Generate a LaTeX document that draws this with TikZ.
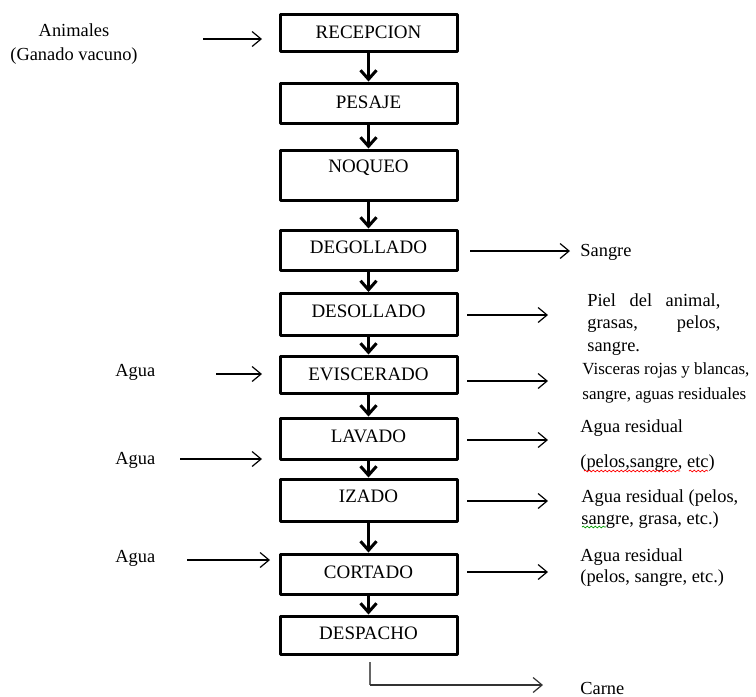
\documentclass[tikz,border=0pt]{standalone}
\usepackage{fontspec}
\setmainfont{Liberation Serif}
\usetikzlibrary{arrows.meta,decorations.pathmorphing}
\begin{document}
\begin{tikzpicture}[x=0.5pt,y=-0.5pt,
  box/.style={draw, line width=1.5pt, line join=round, minimum width=88.5pt, inner sep=0pt},
  boxtext/.style={font=\fontsize{9.5}{11}\selectfont, inner sep=0pt},
  side/.style={font=\fontsize{9.2}{11}\selectfont, inner sep=0pt, anchor=west, align=left},
  flow/.style={line width=1.5pt, -{Straight Barb[length=4.5pt,width=8pt]}},
  sidearrow/.style={line width=0.6pt, -{Straight Barb[length=4.5pt,width=7.5pt]}},
  wavy/.style={line width=0.35pt, decorate, decoration={snake, amplitude=0.45pt, segment length=2pt}}
]
\useasboundingbox (0,0) rectangle (756,697);

% process boxes
\node[box, minimum height=18.5pt] (rec) at (368.5,32.5) {};
\node[box, minimum height=20pt]   (pes) at (368.5,103) {};
\node[box, minimum height=25pt]   (noq) at (368.5,175) {};
\node[box, minimum height=20pt]   (deg) at (368.5,250) {};
\node[box, minimum height=21pt]   (dsl) at (368.5,314.5) {};
\node[box, minimum height=18.5pt] (evi) at (368.5,374.5) {};
\node[box, minimum height=20.5pt] (lav) at (368.5,438.5) {};
\node[box, minimum height=21pt]   (iza) at (368.5,500) {};
\node[box, minimum height=20pt]   (cor) at (368.5,574) {};
\node[box, minimum height=19pt]   (dsp) at (368.5,635) {};

\node[boxtext] (recT) at (rec.center) {RECEPCION};
\node[boxtext] (pesT) at ([yshift=0.5pt]pes.center) {PESAJE};
\node[boxtext] (noqT) at ([yshift=3.5pt]noq.center) {NOQUEO};
\node[boxtext] (degT) at ([yshift=1.5pt]deg.center) {DEGOLLADO};
\node[boxtext] (dslT) at ([yshift=1.75pt]dsl.center) {DESOLLADO};
\node[boxtext] (eviT) at (evi.center) {EVISCERADO};
\node[boxtext] (lavT) at ([yshift=1.25pt]lav.center) {LAVADO};
\node[boxtext] (izaT) at ([yshift=2pt]iza.center) {IZADO};
\node[boxtext] (corT) at ([yshift=1pt]cor.center) {CORTADO};
\node[boxtext] (dspT) at ([yshift=1pt]dsp.center) {DESPACHO};

% flow arrows
\draw[flow] (rec.south) -- (pes.north);
\draw[flow] (pes.south) -- (noq.north);
\draw[flow] (noq.south) -- (deg.north);
\draw[flow] (deg.south) -- (dsl.north);
\draw[flow] (dsl.south) -- (evi.north);
\draw[flow] (evi.south) -- (lav.north);
\draw[flow] (lav.south) -- (iza.north);
\draw[flow] (iza.south) -- (cor.north);
\draw[flow] (cor.south) -- (dsp.north);

% inputs (left)
\node[font=\fontsize{9.2}{12}\selectfont, align=center, inner sep=0pt] (anim) at (74,44) {Animales\\(Ganado vacuno)};
\node[side] (agua1) at (115,372) {Agua};
\node[side] (agua2) at (115,460) {Agua};
\node[side] (agua3) at (115,558) {Agua};

\coordinate (i0a) at (203,39);  \coordinate (i0b) at (262,39);
\coordinate (i1a) at (216,374); \coordinate (i1b) at (262,374);
\coordinate (i2a) at (180,459); \coordinate (i2b) at (262,459);
\coordinate (i3a) at (187,560); \coordinate (i3b) at (270,560);
\draw[sidearrow] (i0a) -- (i0b);
\draw[sidearrow] (i1a) -- (i1b);
\draw[sidearrow] (i2a) -- (i2b);
\draw[sidearrow] (i3a) -- (i3b);

% outputs (right)
\coordinate (o1a) at (470,251); \coordinate (o1b) at (570,251);
\coordinate (o2a) at (467,315); \coordinate (o2b) at (548,315);
\coordinate (o3a) at (467,381); \coordinate (o3b) at (548,381);
\coordinate (o4a) at (467,440); \coordinate (o4b) at (548,440);
\coordinate (o5a) at (467,501); \coordinate (o5b) at (548,501);
\coordinate (o6a) at (467,572); \coordinate (o6b) at (548,572);
\draw[sidearrow] (o1a) -- (o1b);
\draw[sidearrow] (o2a) -- (o2b);
\draw[sidearrow] (o3a) -- (o3b);
\draw[sidearrow] (o4a) -- (o4b);
\draw[sidearrow] (o5a) -- (o5b);
\draw[sidearrow] (o6a) -- (o6b);

\node[side] (sang) at (580,252) {Sangre};
\node[side, text width=66.5pt, align=justify, font=\fontsize{9.2}{11.2}\selectfont] (piel) at (587,324.5)
  {Piel del animal,\linebreak grasas, pelos,\linebreak sangre.};
\node[side, font=\fontsize{8.5}{12.5}\selectfont] (visc) at (582,382.5)
  {Visceras rojas y blancas,\\sangre, aguas residuales};
\node[side] (lavO1) at (580,428) {Agua residual};
\node[side] (lavO2) at (580,463) {(pelos,sangre, etc)};
\node[side] (izaO) at (581,509) {Agua residual (pelos,\\sangre, grasa, etc.)};
\node[side, font=\fontsize{9.2}{10.5}\selectfont] (corO) at (580,567.5) {Agua residual\\(pelos, sangre, etc.)};
\node[side] (carne) at (580,688) {Carne};

% spell-check marks
\draw[wavy, red] (584,471) -- (680,471);
\draw[wavy, red] (689,471) -- (708,471);
\draw[wavy, green!60!black] (582,527) -- (606,527);

% product
\coordinate (p0) at (370,662);
\coordinate (p1) at (370,685);
\coordinate (p2) at (543,685);
\draw[line width=0.6pt, black!60] (p0) -- (p1);
\draw[sidearrow, black!80] (p1) -- (p2);
\end{tikzpicture}
\end{document}
